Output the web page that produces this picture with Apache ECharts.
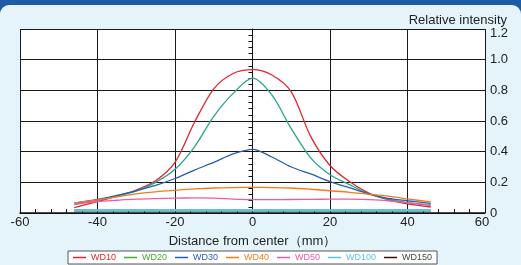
<!DOCTYPE html>
<html>
<head>
<meta charset="utf-8">
<script src="https://cdn.jsdelivr.net/npm/echarts@6/dist/echarts.min.js"></script>
<style>
  html, body { margin: 0; padding: 0; background: #1b5ca5; }
  #chart { width: 521px; height: 265px; }
</style>
</head>
<body>
<div id="chart"></div>
<script>
// distance from center (mm)
var positions = [-46, -40, -35, -30, -25, -20, -15, -10, -5, 0, 5, 10, 15, 20, 25, 30, 35, 40, 46];

var wd10  = [0.035, 0.075, 0.11, 0.15, 0.21, 0.33, 0.59, 0.81, 0.91, 0.935, 0.90, 0.79, 0.50, 0.31, 0.205, 0.13, 0.087, 0.059, 0.039];
var wd20  = [0.055, 0.085, 0.11, 0.145, 0.20, 0.285, 0.43, 0.63, 0.78, 0.88, 0.77, 0.55, 0.36, 0.25, 0.185, 0.125, 0.09, 0.068, 0.05];
var wd30  = [0.065, 0.088, 0.115, 0.145, 0.18, 0.225, 0.28, 0.33, 0.385, 0.415, 0.365, 0.30, 0.255, 0.205, 0.165, 0.125, 0.095, 0.08, 0.063];
var wd40  = [0.065, 0.085, 0.105, 0.125, 0.138, 0.148, 0.157, 0.163, 0.166, 0.167, 0.166, 0.163, 0.155, 0.145, 0.135, 0.122, 0.11, 0.092, 0.072];
var wd50  = [0.058, 0.075, 0.083, 0.09, 0.094, 0.097, 0.098, 0.097, 0.09, 0.087, 0.087, 0.088, 0.089, 0.09, 0.09, 0.087, 0.08, 0.066, 0.054];
var wd100 = [0.018, 0.018, 0.018, 0.018, 0.018, 0.018, 0.018, 0.018, 0.018, 0.018, 0.018, 0.018, 0.018, 0.018, 0.018, 0.018, 0.018, 0.018, 0.018];
var wd150 = [0.014, 0.014, 0.014, 0.014, 0.014, 0.014, 0.014, 0.014, 0.014, 0.014, 0.014, 0.014, 0.014, 0.014, 0.014, 0.014, 0.014, 0.014, 0.014];

var seriesNames = ['WD10', 'WD20', 'WD30', 'WD40', 'WD50', 'WD100', 'WD150'];
var seriesValues = [wd10, wd20, wd30, wd40, wd50, wd100, wd150];

var xTicks = [-60, -40, -20, 0, 20, 40, 60];
var yTicks = [0, 0.2, 0.4, 0.6, 0.8, 1.0, 1.2];

var lineColors   = ['#e3262b', '#26a58a', '#2a5caf', '#f57a1c', '#ef5aa8', '#5cc3e2', '#3a1010'];
var legendColors = ['#e3262b', '#46a83a', '#2a5caf', '#f57a1c', '#ef5aa8', '#5cc3e2', '#3a1010'];
var textColors   = ['#e3262b', '#46a83a', '#2a5caf', '#f57a1c', '#ef5aa8', '#5cc3e2', '#444444'];
var lineWidths   = [1.3, 1.3, 1.3, 1.3, 1.3, 2.5, 1.3];

var myChart = echarts.init(document.getElementById('chart'));

function makeSeries() {
  var out = [];
  // draw WD150 first so WD100 sits on top of it
  var order = [6, 0, 1, 2, 3, 4, 5];
  for (var k = 0; k < order.length; k++) {
    var i = order[k];
    var pts = [];
    for (var j = 0; j < positions.length; j++) {
      pts.push([positions[j], seriesValues[i][j]]);
    }
    out.push({
      name: seriesNames[i],
      type: 'line',
      data: pts,
      smooth: 0.3,
      showSymbol: false,
      silent: true,
      z: 3,
      lineStyle: { color: lineColors[i], width: lineWidths[i] },
      itemStyle: { color: lineColors[i] }
    });
  }
  return out;
}

var legendData = [];
for (var i = 0; i < seriesNames.length; i++) {
  legendData.push({
    name: seriesNames[i],
    itemStyle: { color: legendColors[i] },
    textStyle: { color: textColors[i] }
  });
}

var option = {
  backgroundColor: 'transparent',
  animation: false,
  graphic: [
    {
      type: 'rect',
      shape: { x: 0, y: 5, width: 521, height: 260, r: [9, 9, 0, 0] },
      style: { fill: '#e5f3fa' },
      z: -10
    },
    {
      type: 'rect',
      shape: { x: 20, y: 29, width: 465, height: 184 },
      style: { fill: '#ffffff' },
      z: -9
    }
  ],
  title: {
    text: 'Relative intensity',
    right: 9,
    top: 9,
    textStyle: { fontSize: 13, fontWeight: 'normal', color: '#222', fontFamily: 'Liberation Sans' }
  },
  grid: { left: 20, right: 36, top: 29, bottom: 52 },
  xAxis: {
    type: 'value',
    min: xTicks[0],
    max: xTicks[xTicks.length - 1],
    interval: 20,
    name: 'Distance from center（mm）',
    nameLocation: 'middle',
    nameGap: 22,
    nameTextStyle: { fontSize: 13, color: '#222', fontFamily: 'Liberation Sans' },
    axisLine: { show: true, lineStyle: { color: '#111', width: 1.5 } },
    axisTick: { show: true, inside: true, length: 4, lineStyle: { color: '#111' } },
    minorTick: { show: true, splitNumber: 5, length: 4, lineStyle: { color: '#111' } },
    axisLabel: {
      fontSize: 13, color: '#222', margin: 3, fontFamily: 'Liberation Sans',
      formatter: function (v) { return v === 60 ? '{mx|60}' : String(v); },
      rich: { mx: { fontSize: 13, color: '#222', fontFamily: 'Liberation Sans', padding: [0, 6, 0, 0] } }
    },
    splitLine: { show: true, lineStyle: { color: '#1a1a1a', width: 1 } }
  },
  yAxis: {
    type: 'value',
    position: 'right',
    min: yTicks[0],
    max: yTicks[yTicks.length - 1],
    interval: 0.2,
    axisLine: { show: true, lineStyle: { color: '#111', width: 1 } },
    axisTick: { show: true, inside: true, length: 4, lineStyle: { color: '#111' } },
    minorTick: { show: true, splitNumber: 5, length: 4, lineStyle: { color: '#111' } },
    axisLabel: {
      fontSize: 13, color: '#222', margin: 5, fontFamily: 'Liberation Sans',
      formatter: function (v) {
        if (v === 0) return '0';
        if (v > 1.15) return '{mx|' + v.toFixed(1) + '}';
        return v.toFixed(1);
      },
      rich: { mx: { fontSize: 13, color: '#222', fontFamily: 'Liberation Sans', padding: [9, 0, 0, 0] } }
    },
    splitLine: { show: true, lineStyle: { color: '#1a1a1a', width: 1 } }
  },
  legend: {
    data: legendData,
    left: 68,
    top: 251,
    icon: 'rect',
    itemWidth: 13,
    itemHeight: 1.5,
    itemGap: 8,
    padding: [2, 5, 2, 5],
    backgroundColor: '#fff',
    borderColor: '#555',
    borderWidth: 1,
    borderRadius: 0,
    textStyle: { fontSize: 9, fontFamily: 'Liberation Sans' },
    selectedMode: false
  },
  series: makeSeries()
};

myChart.setOption(option);
</script>
</body>
</html>
